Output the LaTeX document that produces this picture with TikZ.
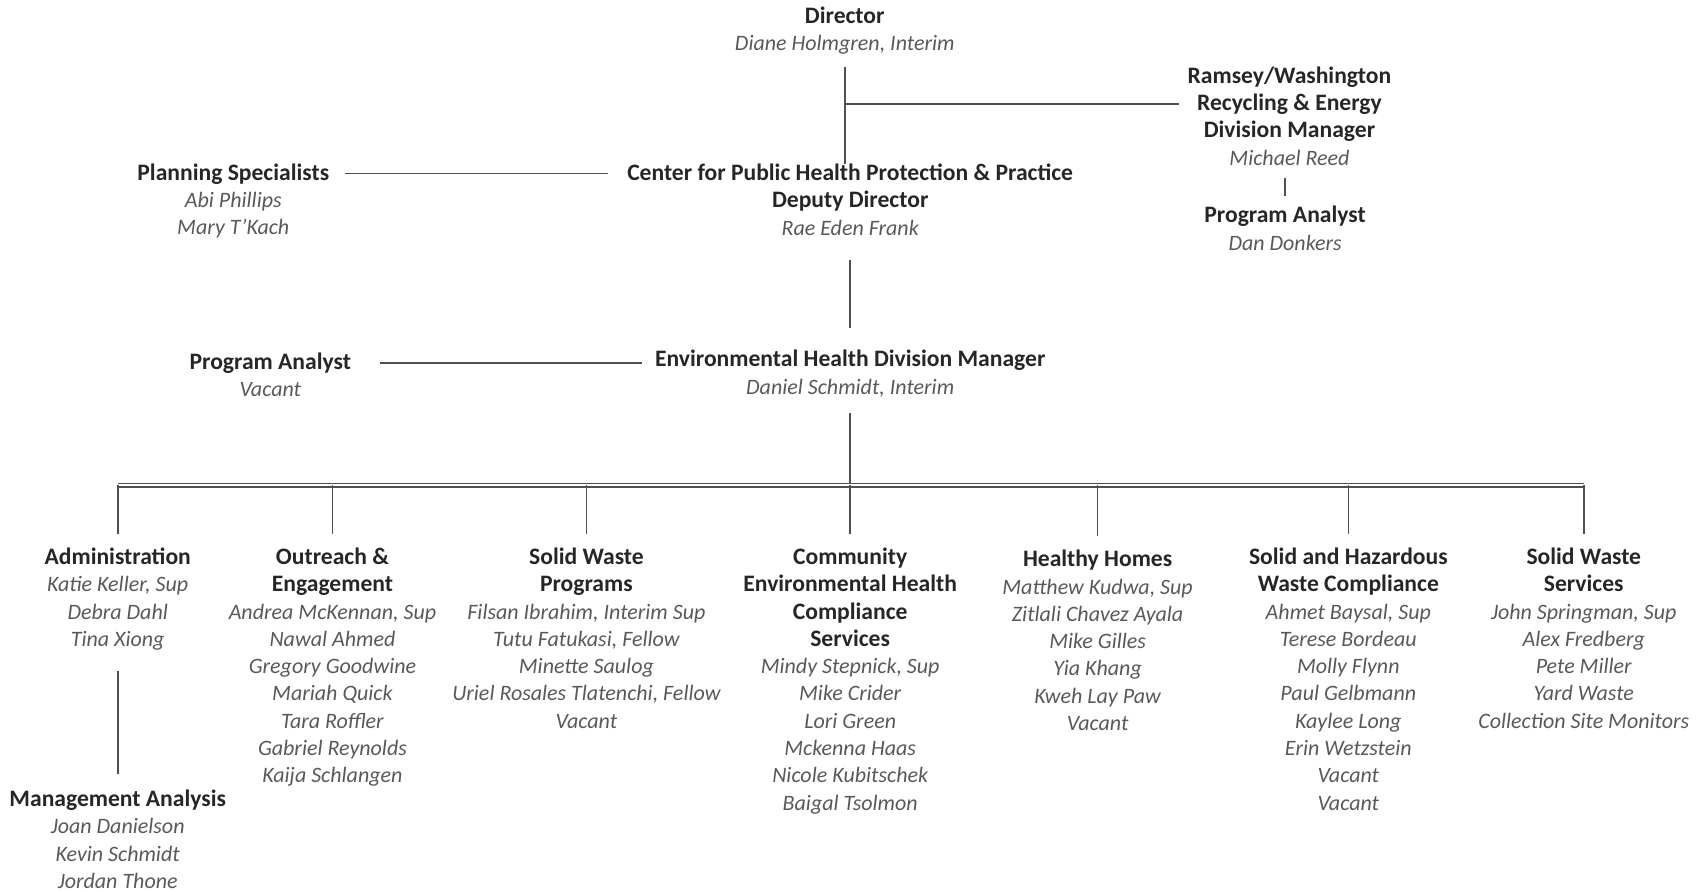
\documentclass[tikz,border=0pt]{standalone}
\usepackage{fontspec}
\setmainfont{Carlito}
\usepackage{tikz}
\usetikzlibrary{positioning,calc}
\definecolor{headgray}{HTML}{262626}
\definecolor{namegray}{HTML}{595959}
\definecolor{linegray}{HTML}{505050}
\newcommand{\head}[1]{{\bfseries\upshape\fontsize{11.8}{13.63}\selectfont\color{headgray}#1}}

\begin{document}
\begin{tikzpicture}[x=0.54505pt, y=-0.54505pt]
  \tikzset{
    unit/.style={
      align=center,
      anchor=north,
      inner sep=0pt,
      font=\fontsize{11}{13.63}\selectfont\itshape,
      text=namegray
    },
    link/.style={
      draw=linegray,
      line width=0.8pt
    },
    busline/.style={
      draw=linegray,
      double=white,
      double distance=1.3pt,
      line width=0.6pt
    }
  }
  \useasboundingbox (0,0) rectangle (1567,817.5);

  % Top of the chart
  \node[unit] (dir) at (775,6) {\head{Director}\\Diane Holmgren, Interim};
  \node[unit] (ram) at (1183,61) {\head{Ramsey/Washington}\\\head{Recycling \& Energy}\\\head{Division Manager}\\Michael Reed};
  \node[unit] (rpa) at (1179,189) {\head{Program Analyst}\\Dan Donkers};
  \node[unit] (plan) at (214,150) {\head{Planning Specialists}\\Abi Phillips\\Mary T'Kach};
  \node[unit] (cph) at (780,150) {\head{Center for Public Health Protection \& Practice}\\\head{Deputy Director}\\Rae Eden Frank};
  \node[unit] (ehd) at (780,321) {\head{Environmental Health Division Manager}\\Daniel Schmidt, Interim};
  \node[unit] (epa) at (248,323) {\head{Program Analyst}\\Vacant};

  % Sections
  \node[unit] (admin) at (108,502.5) {\head{Administration}\\Katie Keller, Sup\\Debra Dahl\\Tina Xiong};
  \node[unit] (out) at (305,502.5) {\head{Outreach \&}\\\head{Engagement}\\Andrea McKennan, Sup\\Nawal Ahmed\\Gregory Goodwine\\Mariah Quick\\Tara Roffler\\Gabriel Reynolds\\Kaija Schlangen};
  \node[unit] (swp) at (538,502.5) {\head{Solid Waste}\\\head{Programs}\\Filsan Ibrahim, Interim Sup\\Tutu Fatukasi, Fellow\\Minette Saulog\\Uriel Rosales Tlatenchi, Fellow\\Vacant};
  \node[unit] (ceh) at (780,502.5) {\head{Community}\\\head{Environmental Health}\\\head{Compliance}\\\head{Services}\\Mindy Stepnick, Sup\\Mike Crider\\Lori Green\\Mckenna Haas\\Nicole Kubitschek\\Baigal Tsolmon};
  \node[unit] (hh) at (1007,504.5) {\head{Healthy Homes}\\Matthew Kudwa, Sup\\Zitlali Chavez Ayala\\Mike Gilles\\Yia Khang\\Kweh Lay Paw\\Vacant};
  \node[unit] (shw) at (1237,502.5) {\head{Solid and Hazardous}\\\head{Waste Compliance}\\Ahmet Baysal, Sup\\Terese Bordeau\\Molly Flynn\\Paul Gelbmann\\Kaylee Long\\Erin Wetzstein\\Vacant\\Vacant};
  \node[unit] (sws) at (1453,502.5) {\head{Solid Waste}\\\head{Services}\\John Springman, Sup\\Alex Fredberg\\Pete Miller\\Yard Waste\\Collection Site Monitors};
  \node[unit] (ma) at (108,724.5) {\head{Management Analysis}\\Joan Danielson\\Kevin Schmidt\\Jordan Thone};

  % Connectors at the top
  \draw[link, shorten <=6pt] (dir.south) -- (dir.south |- cph.north);
  \coordinate (j1) at ($(dir.south)!0.45!(dir.south |- cph.north)$);
  \draw[link, shorten >=4pt] (j1) -- (j1 -| ram.west);
  \draw[link, shorten <=6pt, shorten >=5pt] (rpa.north |- ram.south) -- (rpa.north);
  \draw[link] ($(plan.north east)+(14,9)$) -- ($(cph.north west)+(-17,9)$);
  \draw[link, shorten <=12pt, shorten >=11pt] (cph.south) -- (cph.south |- ehd.north);
  \coordinate (j2) at ($(epa.north east)+(26,10)$);
  \draw[link, shorten >=6.5pt] (j2) -- (j2 -| ehd.west);

  % Bus to the sections
  \coordinate (bus) at (780,445);
  \draw[link, shorten <=8pt] (ehd.south) -- (bus);
  \draw[busline] (bus -| admin.north) -- (bus -| sws.north);
  \foreach \c in {admin,out,swp,ceh,hh,shw,sws}
    \draw[link, shorten >=7pt] (bus -| \c.north) -- (\c.north);
  \draw[link, shorten <=10pt, shorten >=8pt] (admin.south) -- (admin.south |- ma.north);
\end{tikzpicture}
\end{document}
